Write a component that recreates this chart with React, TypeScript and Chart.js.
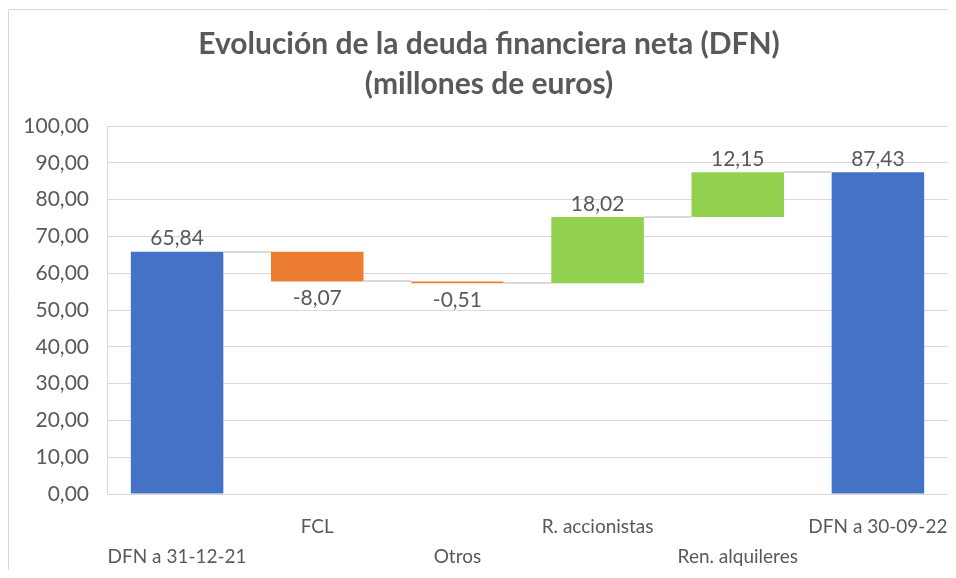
import React, { useEffect, useRef } from "react";
import { Chart, registerables } from "chart.js";

Chart.register(...registerables);

const categories = ["DFN a 31-12-21", "FCL", "Otros", "R. accionistas", "Ren. alquileres", "DFN a 30-09-22"];
const values = [65.84, -8.07, -0.51, 18.02, 12.15, 87.43];
const isTotal = [true, false, false, false, false, true];
const yTicks = { min: 0, max: 100, step: 10 };
const titleLines = ["Evolución de la deuda financiera neta (DFN)", "(millones de euros)"];

const BLUE = "#4472C4";
const ORANGE = "#ED7D31";
const GREEN = "#92D050";
const GRID = "#d9d9d9";
const TEXT = "#595959";
const FONT = "Lato, 'Open Sans', sans-serif";

const fmt = (v: number) => v.toFixed(2).replace(".", ",");

function buildFloating() {
  const ranges: [number, number][] = [];
  const ends: number[] = [];
  let run = 0;
  values.forEach((v, i) => {
    if (isTotal[i]) {
      ranges.push([0, v]);
      run = v;
    } else {
      const start = run;
      run = run + v;
      ranges.push([Math.min(start, run), Math.max(start, run)]);
    }
    ends.push(run);
  });
  return { ranges, ends };
}

export default function App() {
  const ref = useRef<HTMLCanvasElement | null>(null);

  useEffect(() => {
    if (!ref.current) return;
    const { ranges, ends } = buildFloating();
    const colors = values.map((v, i) => (isTotal[i] ? BLUE : v < 0 ? ORANGE : GREEN));
    const labels = categories.map((c, i) => (i % 2 === 0 ? ["", c] : [c, ""]));

    const waterfallPlugin = {
      id: "waterfallExtras",
      beforeDraw(chart: any) {
        const ctx = chart.ctx;
        ctx.save();
        ctx.strokeStyle = GRID;
        ctx.lineWidth = 1;
        ctx.beginPath();
        ctx.moveTo(8.5, 600);
        ctx.lineTo(8.5, 9.5);
        ctx.lineTo(1000, 9.5);
        ctx.stroke();
        ctx.fillStyle = TEXT;
        ctx.font = `bold 30px ${FONT}`;
        ctx.textAlign = "center";
        ctx.textBaseline = "middle";
        titleLines.forEach((t, i) => ctx.fillText(t, 489, 44 + i * 40));
        ctx.restore();
      },
      afterDatasetsDraw(chart: any) {
        const ctx = chart.ctx;
        const meta = chart.getDatasetMeta(0);
        const y = chart.scales.y;
        ctx.save();
        ctx.strokeStyle = GRID;
        ctx.lineWidth = 2;
        for (let i = 0; i < meta.data.length - 1; i++) {
          const a = meta.data[i];
          const b = meta.data[i + 1];
          const py = Math.round(y.getPixelForValue(ends[i]));
          ctx.beginPath();
          ctx.moveTo(a.x + a.width / 2, py);
          ctx.lineTo(b.x - b.width / 2, py);
          ctx.stroke();
        }
        ctx.fillStyle = TEXT;
        ctx.font = `21px ${FONT}`;
        ctx.textAlign = "center";
        ctx.textBaseline = "middle";
        meta.data.forEach((el: any, i: number) => {
          const top = y.getPixelForValue(ranges[i][1]);
          const bottom = y.getPixelForValue(ranges[i][0]);
          const ly = values[i] < 0 ? bottom + 17 : top - 13;
          ctx.fillText(fmt(values[i]), el.x, ly);
        });
        ctx.restore();
      },
    };

    const chart = new Chart(ref.current, {
      type: "bar",
      data: {
        labels,
        datasets: [
          {
            data: ranges as any,
            backgroundColor: colors,
            borderWidth: 0,
            borderSkipped: false,
            categoryPercentage: 1,
            barPercentage: 0.66,
          },
        ],
      },
      options: {
        responsive: false,
        maintainAspectRatio: false,
        animation: false,
        layout: { padding: { left: 0, right: 8, top: 126, bottom: 0 } },
        plugins: {
          legend: { display: false },
          tooltip: { enabled: false },
          title: { display: false },
        },
        scales: {
          x: {
            grid: { display: false, drawTicks: false },
            border: { display: true, color: GRID, width: 1 },
            ticks: {
              color: TEXT,
              font: { family: FONT, size: 19, lineHeight: 30 / 19 },
              padding: 18,
              maxRotation: 0,
              autoSkip: false,
            },
            afterFit: (s: any) => {
              s.height = 84;
              s.paddingLeft = 0;
              s.paddingRight = 0;
            },
          },
          y: {
            min: yTicks.min,
            max: yTicks.max,
            grid: { color: GRID, lineWidth: 1, drawTicks: false },
            border: { display: true, color: GRID, width: 1 },
            ticks: {
              stepSize: yTicks.step,
              color: TEXT,
              font: { family: FONT, size: 21 },
              padding: 18,
              callback: (v: any) => fmt(Number(v)),
            },
            afterFit: (s: any) => {
              s.width = 107;
              s.paddingTop = 0;
              s.paddingBottom = 0;
            },
          },
        },
      },
      plugins: [waterfallPlugin],
    });
    return () => chart.destroy();
  }, []);

  return (
    <div style={{ margin: -8, width: 956, height: 578, position: "relative", background: "#fff" }}>
      <canvas ref={ref} width={956} height={578} style={{ display: "block" }} />
    </div>
  );
}
